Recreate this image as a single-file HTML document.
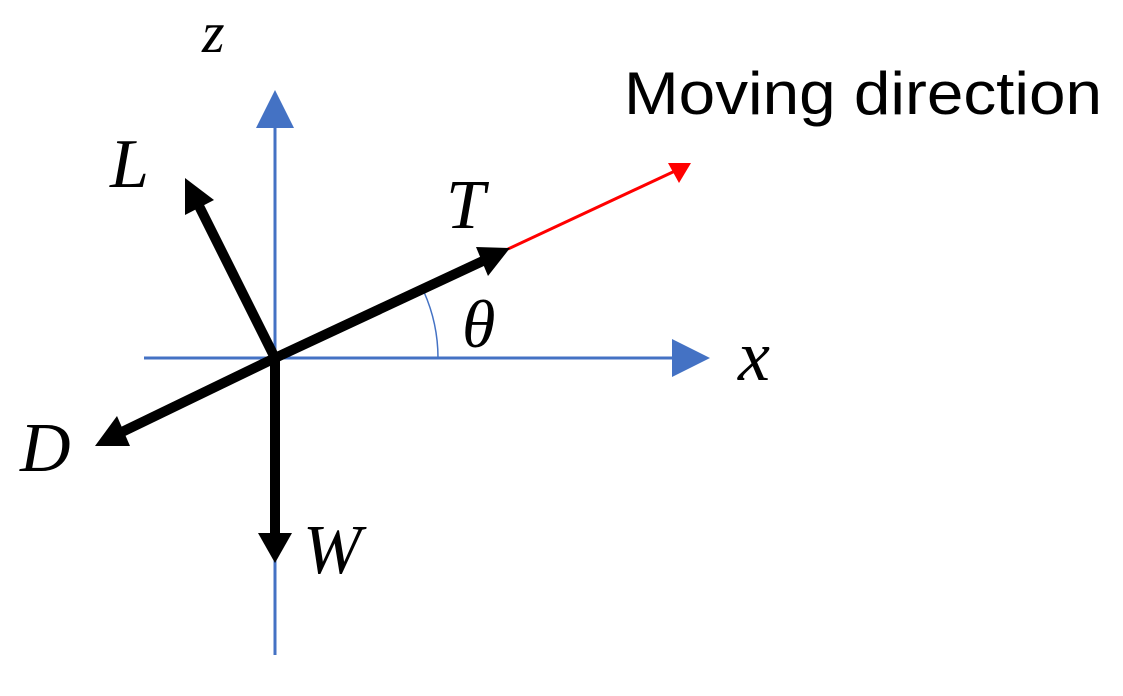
<!DOCTYPE html>
<html><head><meta charset="utf-8"><style>
html,body{margin:0;padding:0;background:#fff;}
svg{display:block;}
</style></head><body>
<svg width="1123" height="696" viewBox="0 0 1123 696" xmlns="http://www.w3.org/2000/svg">
<!-- axes -->
<line x1="144" y1="358" x2="674" y2="358" stroke="#4472C4" stroke-width="3"/>
<polygon points="710,358 672,339 672,377" fill="#4472C4"/>
<line x1="275" y1="655" x2="275" y2="126" stroke="#4472C4" stroke-width="3"/>
<polygon points="275,90 256,128 294,128" fill="#4472C4"/>
<!-- angle arc -->
<path d="M 438 358 A 163 163 0 0 0 424 292" fill="none" stroke="#4472C4" stroke-width="1.5"/>
<!-- red moving direction -->
<line x1="508" y1="249" x2="675" y2="171" stroke="#FF0000" stroke-width="3"/>
<polygon points="691,163 668,163 679,183" fill="#FF0000"/>
<!-- black forces -->
<g stroke="#000" stroke-width="10" stroke-linecap="butt">
<line x1="275" y1="358" x2="485" y2="260"/>
<line x1="275" y1="358" x2="122" y2="432"/>
<line x1="275" y1="358" x2="198" y2="204"/>
<line x1="275" y1="352" x2="275" y2="535"/>
</g>
<polygon points="510,248 476,247 488,276" fill="#000"/>
<polygon points="95,446 130,446 117,416" fill="#000"/>
<polygon points="185,178 185,215 214,200" fill="#000"/>
<polygon points="275,563 258,533 292,533" fill="#000"/>
<!-- labels -->
<g font-family="'Liberation Serif', serif" font-style="italic" fill="#000">
<text x="202" y="52" font-size="58">z</text>
<text x="110" y="187" font-size="70">L</text>
<text x="446" y="228" font-size="70">T</text>
<text x="462" y="347" font-size="68">θ</text>
<text x="738" y="380" font-size="72">x</text>
<text x="20" y="471" font-size="70">D</text>
<text x="303" y="573" font-size="70">W</text>
</g>
<text x="624" y="114" font-family="'Liberation Sans', sans-serif" font-size="60" textLength="478" lengthAdjust="spacingAndGlyphs" fill="#000">Moving direction</text>
</svg>
</body></html>
